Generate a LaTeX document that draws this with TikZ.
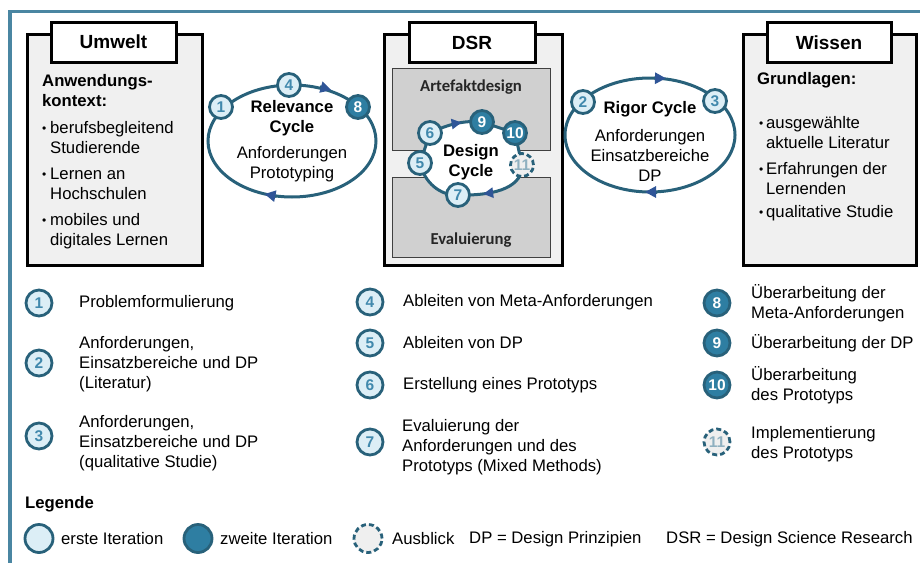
\documentclass[tikz,border=0pt]{standalone}
\usepackage{fontspec}
\setmainfont{Liberation Sans}
\newfontfamily\calfont{Carlito}
\usetikzlibrary{arrows.meta,decorations.markings}
\definecolor{frameblue}{HTML}{4A86A2}
\definecolor{ring}{HTML}{28617A}
\definecolor{lightfill}{HTML}{DCEEF6}
\definecolor{numlight}{HTML}{4189AD}
\definecolor{darkfill}{HTML}{2E7EA2}
\definecolor{boxgray}{HTML}{F0F0F0}
\definecolor{innergray}{HTML}{D0D0D0}
\definecolor{arrowc}{HTML}{2F5597}
\definecolor{dashfill}{HTML}{EFEFEF}
\definecolor{numeleven}{HTML}{8FB0C0}
\newcommand{\bul}[1]{\makebox[#1][l]{\raisebox{1pt}{\fontsize{12}{12}\selectfont\textbullet}}}
\tikzset{
 txt/.style={font=\fontsize{16.7}{20}\selectfont, inner sep=0pt},
 btxt/.style={font=\fontsize{16.7}{20}\selectfont\bfseries, inner sep=0pt},
 caltxt/.style={font=\fontsize{16.7}{20}\selectfont\calfont\bfseries, inner sep=0pt, text=black!85},
 numA/.style={circle, draw=ring, line width=2.8pt, fill=lightfill, text=numlight, font=\fontsize{15.5}{16}\selectfont\bfseries, minimum size=23pt, inner sep=0pt},
 numB/.style={numA, fill=darkfill, text=white},
 numC/.style={numA, fill=dashfill, dash pattern=on 5pt off 3pt, text=numeleven},
 legsize/.style={minimum size=26pt},
 outerbox/.style={draw=black, line width=3pt, fill=boxgray, anchor=north west, inner sep=0pt},
 titlebox/.style={draw=black, line width=3pt, fill=white, font=\fontsize{19}{22}\selectfont\bfseries, minimum width=125pt, minimum height=40pt, inner sep=0pt},
 innerbox/.style={draw=black!75, line width=1pt, fill=innergray, anchor=north west, inner sep=0pt},
 cycline/.style={draw=ring, line width=3pt},
 tipseg/.style={ring, line width=3pt, -{Triangle[length=11pt,width=11pt,color=arrowc]}},
 midtip/.style={postaction={decorate}, decoration={markings, mark=at position #1 with {\arrow[arrowc]{Triangle[length=10pt,width=10pt]}}}}
}
\begin{document}
\begin{tikzpicture}[x=1pt,y=-1pt]
\useasboundingbox (0,0) rectangle (920,562);
% frame
\draw[frameblue, line width=3.5pt] (10,570) -- (10,11.5) -- (930,11.5);

% ---------- Umwelt ----------
\node[outerbox, minimum width=175pt, minimum height=231pt] (uw) at (26,33) {};
\node[titlebox] (uwt) at (113.5,42) {Umwelt};
\node[btxt, anchor=west, align=left] (uwk) at (42,91) {Anwendungs-\\kontext:};
\node[txt, anchor=west, align=left] (ut1) at (42,138) {\bul{8pt}berufsbegleitend\\\hspace*{8pt}Studierende};
\node[txt, anchor=west, align=left] (ut2) at (42,184) {\bul{8pt}Lernen an\\\hspace*{8pt}Hochschulen};
\node[txt, anchor=west, align=left] (ut3) at (42,231) {\bul{8pt}mobiles und\\\hspace*{8pt}digitales Lernen};

% ---------- DSR ----------
\node[outerbox, minimum width=178pt, minimum height=231pt] (dsr) at (383,33) {};
\node[innerbox, minimum width=158pt, minimum height=82pt] (art) at (392,68) {};
\node[innerbox, minimum width=158pt, minimum height=80pt] (eva) at (392,177) {};
\node[titlebox, minimum width=126pt] (dsrt) at (472,42.5) {DSR};
\node[caltxt] (artl) at (471,87) {Artefaktdesign};
\node[caltxt] (eval) at (471,240) {Evaluierung};

% ---------- Wissen ----------
\node[outerbox, minimum width=173pt, minimum height=231pt] (wi) at (742,33) {};
\node[titlebox, minimum width=124pt] (wit) at (829,42.5) {Wissen};
\node[btxt, anchor=west] (wig) at (757,80) {Grundlagen:};
\node[txt, anchor=west, align=left] (wt1) at (759,133) {\bul{7pt}ausgewählte\\\hspace*{7pt}aktuelle Literatur};
\node[txt, anchor=west, align=left] (wt2) at (759,179) {\bul{7pt}Erfahrungen der\\\hspace*{7pt}Lernenden};
\node[txt, anchor=west] (wt3) at (759,213) {\bul{7pt}qualitative Studie};

% ---------- Relevance cycle ----------
\draw[cycline, fill=white] (292,141) ellipse [x radius=84, y radius=56];
\draw[tipseg] (320,86.8) -- (331.5,90.1);
\draw[tipseg] (276.5,196.4) -- (264.5,194);
\node[numA] (r1) at (221,107) {1};
\node[numA] (r4) at (289,85) {4};
\node[numB] (r8) at (358,107) {8};
\node[btxt, align=center] (rlt) at (292,118) {Relevance\\Cycle};
\node[txt, align=center] (rls) at (292,164) {Anforderungen\\Prototyping};

% ---------- Rigor cycle ----------
\draw[cycline, fill=white] (650,135) ellipse [x radius=85, y radius=57];
\draw[tipseg] (654,78.2) -- (666,78.3);
\draw[tipseg] (657,192) -- (645,192);
\node[numA] (r2) at (583,102) {2};
\node[numA] (r3) at (715,101) {3};
\node[btxt] (rgt) at (650,109) {Rigor Cycle};
\node[txt, align=center] (rgs) at (650,155) {Anforderungen\\Einsatzbereiche\\DP};

% ---------- Design cycle ----------
\coordinate (p6) at (430,133);
\coordinate (p9) at (482,122);
\coordinate (p10) at (515,133);
\coordinate (p11) at (522,165);
\coordinate (p7) at (458,195);
\coordinate (p5) at (420,163);
\fill[white] (p6) .. controls (448,124) and (466,120) .. (p9) -- (p10) -- (p11) .. controls (523,185) and (500,196) .. (p7) .. controls (440,196) and (424,182) .. (p5) -- cycle;
\draw[cycline, midtip=0.62] (p6) .. controls (448,124) and (466,120) .. (p9);
\draw[cycline] (p9) -- (p10);
\draw[cycline] (p10) -- (p11);
\draw[cycline, midtip=0.68] (p11) .. controls (523,185) and (500,196) .. (p7);
\draw[cycline] (p7) .. controls (440,196) and (424,182) .. (p5);
\draw[cycline] (p5) -- (p6);
\node[numA] (d6) at (p6) {6};
\node[numB] (d9) at (p9) {9};
\node[numB] (d10) at (p10) {10};
\node[numC] (d11) at (p11) {11};
\node[numA] (d7) at (p7) {7};
\node[numA] (d5) at (p5) {5};
\node[btxt, align=center] (dct) at (471,162) {Design\\Cycle};

% ---------- numbered legend ----------
\node[numA, legsize] (l1) at (39,303) {1};
\node[numA, legsize] (l2) at (39,363) {2};
\node[numA, legsize] (l3) at (39,436) {3};
\node[txt, anchor=west] (t1) at (79,303) {Problemformulierung};
\node[txt, anchor=west, align=left] (t2) at (79,364) {Anforderungen,\\Einsatzbereiche und DP\\(Literatur)};
\node[txt, anchor=west, align=left] (t3) at (79,443) {Anforderungen,\\Einsatzbereiche und DP\\(qualitative Studie)};

\node[numA, legsize] (l4) at (370,302) {4};
\node[numA, legsize] (l5) at (370,343) {5};
\node[numA, legsize] (l6) at (370,385) {6};
\node[numA, legsize] (l7) at (370,442) {7};
\node[txt, anchor=west] (t4) at (403,302) {Ableiten von Meta-Anforderungen};
\node[txt, anchor=west] (t5) at (403,343) {Ableiten von DP};
\node[txt, anchor=west] (t6) at (403,385) {Erstellung eines Prototyps};
\node[txt, anchor=west, align=left] (t7) at (402,447) {Evaluierung der\\Anforderungen und des\\Prototyps (Mixed Methods)};

\node[numB, legsize] (l8) at (717,303) {8};
\node[numB, legsize] (l9) at (717,343) {9};
\node[numB, legsize] (l10) at (717,385) {10};
\node[numC, legsize] (l11) at (717,442) {11};
\node[txt, anchor=west, align=left] (t8) at (751,303) {Überarbeitung der\\Meta-Anforderungen};
\node[txt, anchor=west] (t9) at (751,343) {Überarbeitung der DP};
\node[txt, anchor=west, align=left] (t10) at (751,385) {Überarbeitung\\des Prototyps};
\node[txt, anchor=west, align=left] (t11) at (751,444) {Implementierung\\des Prototyps};

% ---------- Legende ----------
\node[btxt, anchor=west] (leg) at (25,504) {Legende};
\node[numA, minimum size=28pt] (e1) at (39,538.5) {};
\node[numB, minimum size=28pt] (e2) at (198,538.5) {};
\node[numC, minimum size=28pt] (e3) at (368,538.5) {};
\node[txt, anchor=west] (et1) at (61,539) {erste Iteration};
\node[txt, anchor=west] (et2) at (220,539) {zweite Iteration};
\node[txt, anchor=west] (et3) at (392,539) {Ausblick};
\node[txt, anchor=west] (et4) at (469,539) {DP = Design Prinzipien};
\node[txt, anchor=west] (et5) at (666,539) {DSR = Design Science Research};
\end{tikzpicture}
\end{document}
